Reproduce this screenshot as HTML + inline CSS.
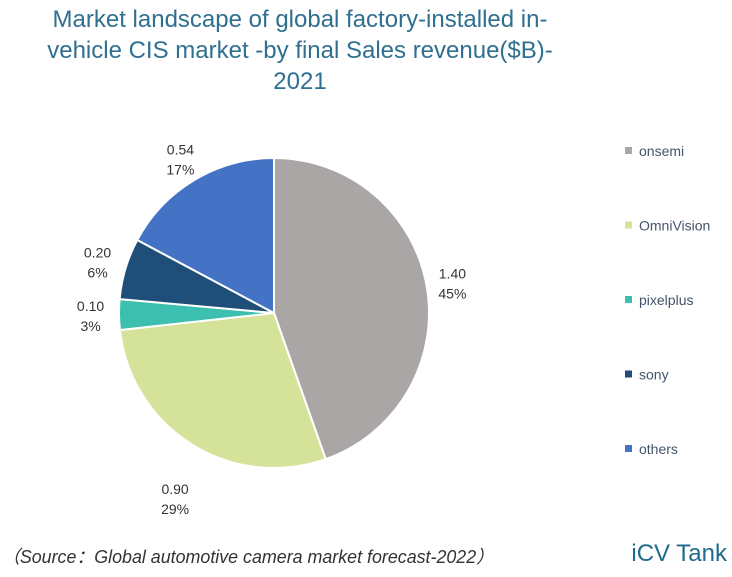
<!DOCTYPE html>
<html><head><meta charset="utf-8"><style>
body{margin:0;background:#fff;width:732px;height:572px;overflow:hidden;font-family:"Liberation Sans","Noto Sans CJK SC",sans-serif;}
</style></head><body>
<svg id="chart" width="732" height="572">
<text x="300" y="27" text-anchor="middle" font-size="24" fill="#2f6f8f">Market landscape of global factory-installed in-</text>
<text x="300" y="58" text-anchor="middle" font-size="24" fill="#2f6f8f">vehicle CIS market -by final Sales revenue($B)-</text>
<text x="300" y="89" text-anchor="middle" font-size="24" fill="#2f6f8f">2021</text>
<g id="slices"></g><g id="labels"></g><g id="legend"></g>
<text x="2" y="563" font-size="18" font-style="italic" fill="#333" textLength="492" lengthAdjust="spacingAndGlyphs">（Source：Global automotive camera market forecast-2022）</text>
<text x="727" y="561" text-anchor="end" font-size="24" fill="#1f6a8c">iCV Tank</text>
</svg>
<script>
const categories=["onsemi","OmniVision","pixelplus","sony","others"];
const values=[1.40,0.90,0.10,0.20,0.54];
const percents=["45%","29%","3%","6%","17%"];
const colors=["#aaa6a6","#d5e39a","#3cbfae","#1f4e79","#4472c4"];
const labelDx=[1,17,-3,-4,-1];
const ns="http://www.w3.org/2000/svg";
const cx=274,cy=313,r=155;
const total=values.reduce((a,b)=>a+b,0);
function pt(a,rad){return [cx+rad*Math.sin(a),cy-rad*Math.cos(a)];}
let cum=0;
const S=document.getElementById('slices'),L=document.getElementById('labels'),G=document.getElementById('legend');
values.forEach((v,i)=>{
 const a0=cum/total*2*Math.PI;cum+=v;const a1=cum/total*2*Math.PI;
 const p0=pt(a0,r),p1=pt(a1,r);
 const path=document.createElementNS(ns,'path');
 path.setAttribute('d',`M${cx},${cy}L${p0[0]},${p0[1]}A${r},${r} 0 ${a1-a0>Math.PI?1:0} 1 ${p1[0]},${p1[1]}Z`);
 path.setAttribute('fill',colors[i]);path.setAttribute('stroke','#fff');path.setAttribute('stroke-width','2');
 
 
 S.appendChild(path);
 const am=(a0+a1)/2;const rr=180+45*Math.max(0,-Math.cos(am));
 const lp=pt(am,rr);
 const lx=lp[0]+labelDx[i];
 const t=document.createElementNS(ns,'text');
 t.setAttribute('x',lx);t.setAttribute('y',lp[1]-4);t.setAttribute('font-size','14');t.setAttribute('fill','#333');t.setAttribute('text-anchor','middle');
 
 
 t.innerHTML=`<tspan x="${lx}">${v.toFixed(2)}</tspan><tspan x="${lx}" dy="20">${percents[i]}</tspan>`;
 L.appendChild(t);
 const ly=151+i*74.5;
 const sq=document.createElementNS(ns,'rect');
 sq.setAttribute('x',625);sq.setAttribute('y',ly-4);sq.setAttribute('width',7);sq.setAttribute('height',7);sq.setAttribute('fill',colors[i]);
 
 
 G.appendChild(sq);
 const lt=document.createElementNS(ns,'text');
 lt.setAttribute('x',639);lt.setAttribute('y',ly+5);lt.setAttribute('font-size','14');lt.setAttribute('fill','#44546a');
 lt.textContent=categories[i];
 
 
 G.appendChild(lt);
});
</script>
</body></html>
